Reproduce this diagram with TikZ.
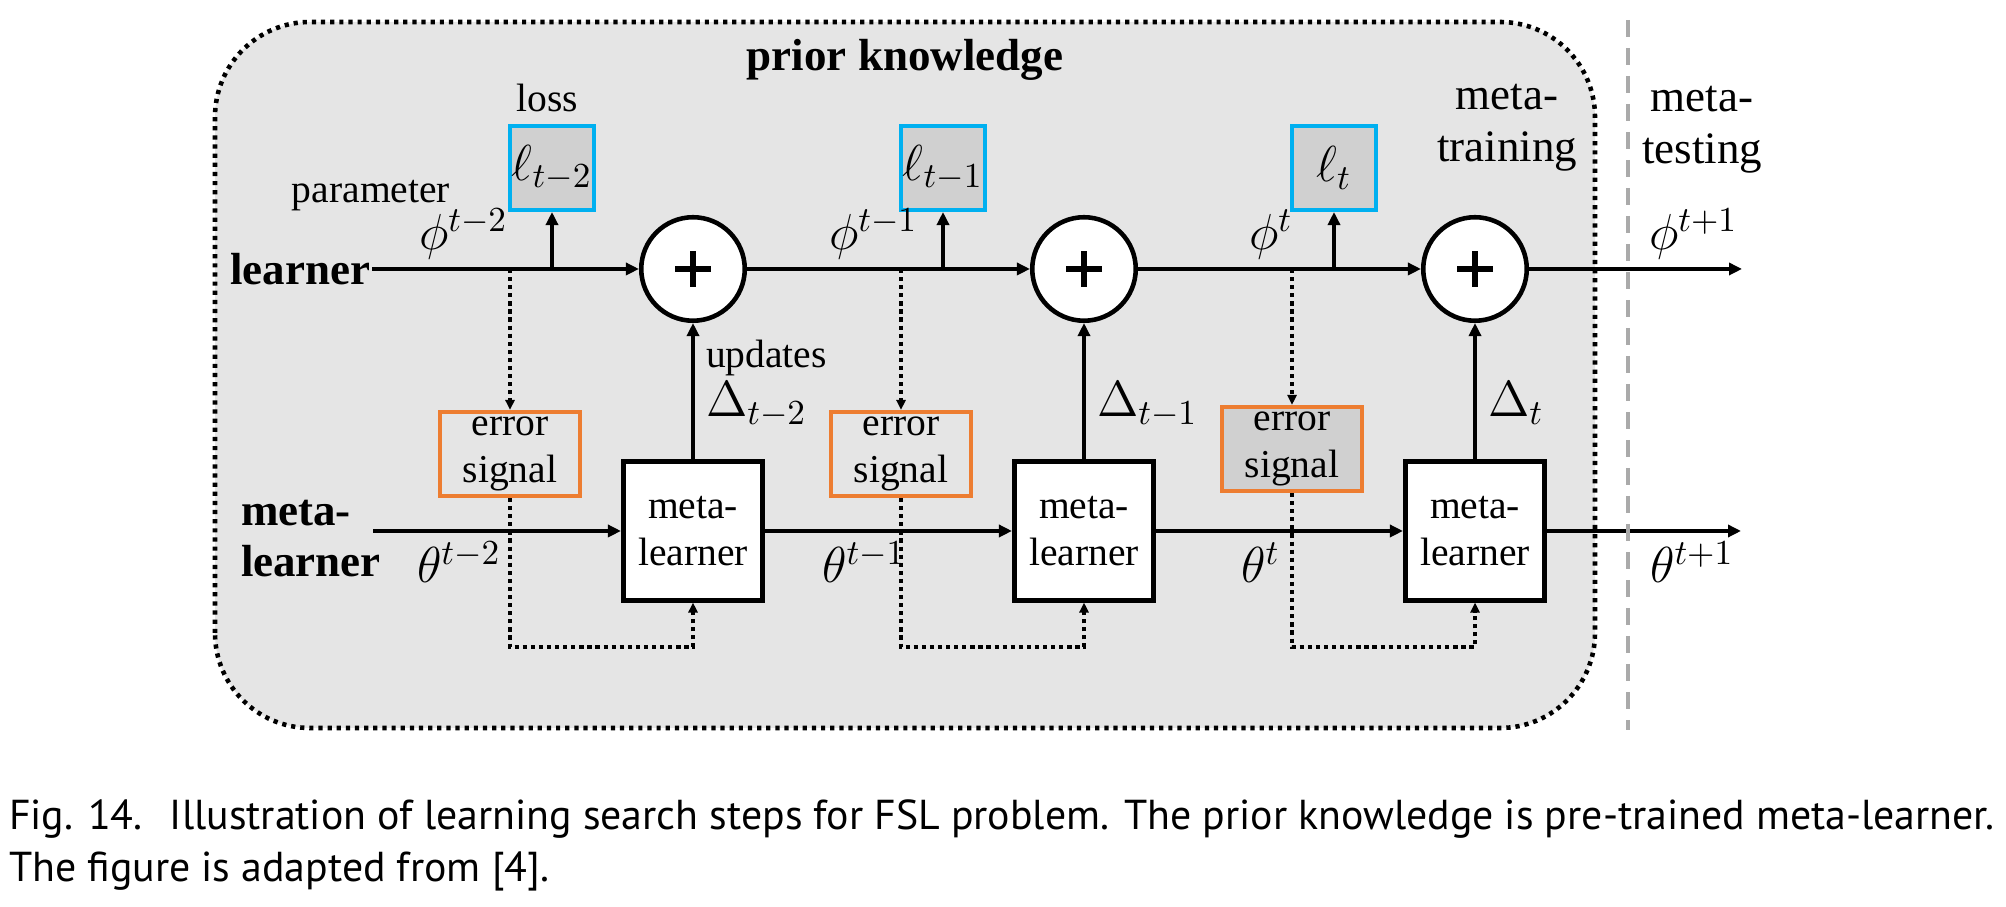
\documentclass[tikz,border=0pt]{standalone}
\usepackage[no-math]{fontspec}
\setmainfont{Liberation Serif}
\newfontfamily\capfont{PT Sans}
\usetikzlibrary{arrows.meta}
\definecolor{bgbox}{RGB}{229,229,229}
\definecolor{lossfill}{RGB}{208,208,208}
\definecolor{losscyan}{RGB}{0,176,240}
\definecolor{errorange}{RGB}{237,125,49}
\definecolor{splitgray}{RGB}{170,170,170}
\newcommand{\lbltext}{\fontsize{11.25}{13.2}\selectfont}
\newcommand{\lblbold}{\fontsize{12.8}{14.5}\selectfont\bfseries}
\newcommand{\lblbig}{\fontsize{12.8}{14.8}\selectfont}
\newcommand{\lblmath}{\fontsize{13.7}{16}\selectfont}
\newcommand{\capsize}{\capfont\fontsize{11.9}{14}\selectfont}

\begin{document}
\begin{tikzpicture}[line width=1.15pt,every node/.style={inner sep=0pt},
  fwd/.style={-{Triangle[length=0.13cm,width=0.12cm]}},
  signalline/.style={line width=1.3pt,dash pattern=on 1.2pt off 1.1pt,-{Triangle[length=0.1cm,width=0.09cm]}},
  sumnode/.style={draw,circle,fill=white,minimum size=1.035cm,line width=1.3pt},
  mlbox/.style={draw,fill=white,minimum width=1.395cm,minimum height=1.385cm,line width=1.3pt,align=center,font=\lbltext},
  lossbox/.style={draw=losscyan,fill=lossfill,minimum size=0.84cm,font=\lblmath},
  errbox/.style={draw=errorange,minimum width=1.40cm,minimum height=0.84cm,align=center,font=\lbltext}]
  \useasboundingbox (0,0) rectangle (20.06,9.07);
  \draw[fill=bgbox,line width=1.3pt,dash pattern=on 1.2pt off 1.4pt,rounded corners=0.95cm] (2.15,1.79) rectangle (15.95,8.85);
  \node[font=\lblbold,anchor=base] (prior) at (9.05,8.36) {prior knowledge};
  \node[font=\lbltext,anchor=base] (losslbl) at (5.47,7.95) {loss};
  \node[font=\lbltext,anchor=base] (param) at (3.71,7.04) {parameter};
  \node[font=\lblbold,anchor=east] (lrn) at (3.72,6.38) {learner};
  \node[font=\lblbold,anchor=west,align=left] (mlrn) at (2.39,3.685) {meta-\\learner};
  \node[font=\lblbig,align=center] (mtrain) at (15.07,7.795) {meta-\\training};
  \node[font=\lblbig,align=center] (mtest) at (17.02,7.775) {meta-\\testing};
  \node[font=\lbltext,anchor=base west] (upd) at (7.04,5.39) {updates};
  \foreach \i/\c/\s/\phx/\thx/\f/\ey in {1/6.93/t-2/4.17/4.15/none/4.53,2/10.84/t-1/8.27/8.20/none/4.53,3/14.75/t/12.47/12.39/lossfill/4.58}{
    \node[sumnode] (c\i) at (\c,6.38) {};
    \draw[line width=1.6pt] (c\i.center) +(-.18,0) -- +(.18,0) (c\i.center) +(0,-.18) -- +(0,.18);
    \node[mlbox] (ml\i) at (\c,3.76) {meta-\\learner};
    \node[lossbox] (loss\i) at (\c-1.41,7.39) {$\ell_{\s}$};
    \node[errbox,fill=\f] (err\i) at (\c-1.83,\ey) {error\\signal};
    \node[font=\lblmath,anchor=base west] (phi\i) at (\phx,6.57) {$\phi^{\s}$};
    \node[font=\lblmath,anchor=base west] (theta\i) at (\thx,3.24) {$\theta^{\s}$};
    \node[font=\lblmath,anchor=base west] (delta\i) at (\c+0.11,4.90) {$\Delta_{\s}$};
    \draw[fwd] (loss\i.south |- c\i) -- (loss\i.south);
    \draw[fwd] (ml\i) -- (c\i);
    \draw[signalline] (err\i.north |- c\i) -- (err\i.north);
    \draw[signalline] (err\i.south) -- (err\i.south |- 0,2.6) -| (ml\i.south);
  }
  \node[font=\lblmath,anchor=base west] (phinext) at (16.47,6.57) {$\phi^{t+1}$};
  \node[font=\lblmath,anchor=base west] (thetanext) at (16.48,3.24) {$\theta^{t+1}$};
  \coordinate (phiend) at (17.42,6.38);
  \coordinate (mlstart) at (3.73,3.76);
  \coordinate (thetaend) at (17.41,3.76);
  \draw[fwd] (lrn.east) -- (c1);
  \draw[fwd] (c1) -- (c2);
  \draw[fwd] (c2) -- (c3);
  \draw[fwd] (c3) -- (phiend);
  \draw[fwd] (mlstart) -- (ml1);
  \draw[fwd] (ml1) -- (ml2);
  \draw[fwd] (ml2) -- (ml3);
  \draw[fwd] (ml3) -- (thetaend);
  \draw[splitgray,line width=1pt,dash pattern=on 0.17cm off 0.11cm] (16.28,8.87) -- (16.28,1.77);
  \node[font=\capsize,anchor=base west] (cap1) at (0.07,0.77) {Fig. 14.\hspace{0.65em}Illustration of learning search steps for FSL problem. The prior knowledge is pre-trained meta-learner.};
  \node[font=\capsize,anchor=base west] (cap2) at (0.07,0.25) {The figure is adapted from [4].};
\end{tikzpicture}
\end{document}
